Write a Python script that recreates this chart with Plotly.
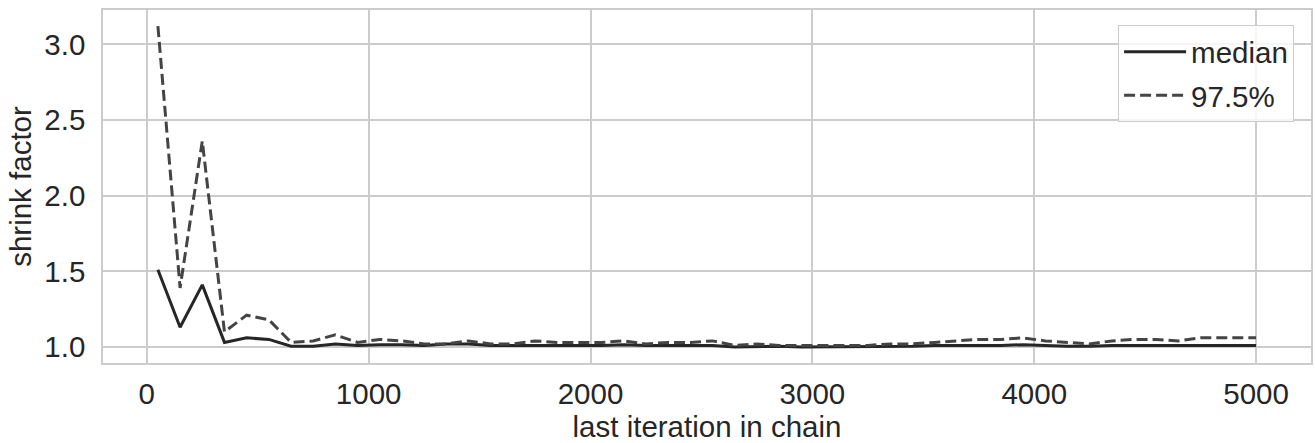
import plotly.graph_objects as go

iterations = [50 + 100 * i for i in range(50)] + [5000]

median = [1.51, 1.13, 1.41, 1.03, 1.06, 1.05, 1.005, 1.005, 1.02, 1.01,
          1.015, 1.015, 1.01, 1.02, 1.02, 1.01, 1.01, 1.01, 1.01, 1.01,
          1.01, 1.015, 1.01, 1.01, 1.01, 1.01, 1.0, 1.005, 1.005, 1.0,
          1.0, 1.0, 1.0, 1.005, 1.005, 1.01, 1.01, 1.01, 1.01, 1.015,
          1.01, 1.005, 1.005, 1.01, 1.01, 1.01, 1.01, 1.01, 1.01, 1.01,
          1.01]

q975 = [3.12, 1.39, 2.36, 1.10, 1.21, 1.18, 1.03, 1.04, 1.08, 1.03,
        1.05, 1.04, 1.02, 1.02, 1.04, 1.02, 1.02, 1.04, 1.03, 1.03,
        1.03, 1.04, 1.02, 1.03, 1.03, 1.04, 1.01, 1.02, 1.01, 1.01,
        1.01, 1.01, 1.01, 1.02, 1.02, 1.03, 1.04, 1.05, 1.05, 1.06,
        1.04, 1.03, 1.02, 1.04, 1.05, 1.05, 1.04, 1.06, 1.06, 1.06,
        1.06]

text_color = "#262626"
grid_color = "#cccccc"
font = "Liberation Sans, Arial, sans-serif"
fs = 29.5

fig = go.Figure()
fig.add_trace(go.Scatter(x=iterations, y=median, mode="lines", name="median",
                         line=dict(color="#262626", width=3),
                         legendgroup="a"))
fig.add_trace(go.Scatter(x=iterations, y=q975, mode="lines", name="97.5%",
                         line=dict(color="#444444", width=3, dash="11px,5px"),
                         legendgroup="b"))

xmin, xmax = 50, 5000
xr = xmax - xmin
ymin_d, ymax_d = min(median + q975), max(median + q975)
yr = ymax_d - ymin_d

fig.update_layout(
    width=1315, height=443,
    margin=dict(l=103, r=2, t=10, b=80),
    plot_bgcolor="white", paper_bgcolor="white",
    font=dict(family=font, size=fs, color=text_color),
    showlegend=True,
    legend=dict(x=0.986, y=0.957, xanchor="right", yanchor="top",
                bgcolor="rgba(255,255,255,0.8)", bordercolor=grid_color,
                borderwidth=1, font=dict(size=fs, color=text_color),
                itemwidth=62, traceorder="grouped", tracegroupgap=2),
    xaxis=dict(range=[xmin - 0.05 * xr, xmax + 0.05 * xr], tickmode="linear",
               tick0=0, dtick=1000, showgrid=True, gridcolor=grid_color,
               gridwidth=1.5, showline=True, linecolor=grid_color,
               linewidth=1.5, mirror=True, zeroline=False,
               ticks="outside", ticklen=4, tickcolor="rgba(0,0,0,0)",
               title=dict(text="last iteration in chain", standoff=2,
                          font=dict(size=fs))),
    yaxis=dict(range=[ymin_d - 0.05 * yr, ymax_d + 0.05 * yr],
               tickmode="linear", tick0=1.0, dtick=0.5, tickformat=".1f",
               showgrid=True, gridcolor=grid_color, gridwidth=1.5,
               showline=True, linecolor=grid_color, linewidth=1.5,
               mirror=True, zeroline=False,
               ticks="outside", ticklen=10, tickcolor="rgba(0,0,0,0)",
               title=dict(text="shrink factor", standoff=4,
                          font=dict(size=fs))),
)

fig.write_html("out.html")
